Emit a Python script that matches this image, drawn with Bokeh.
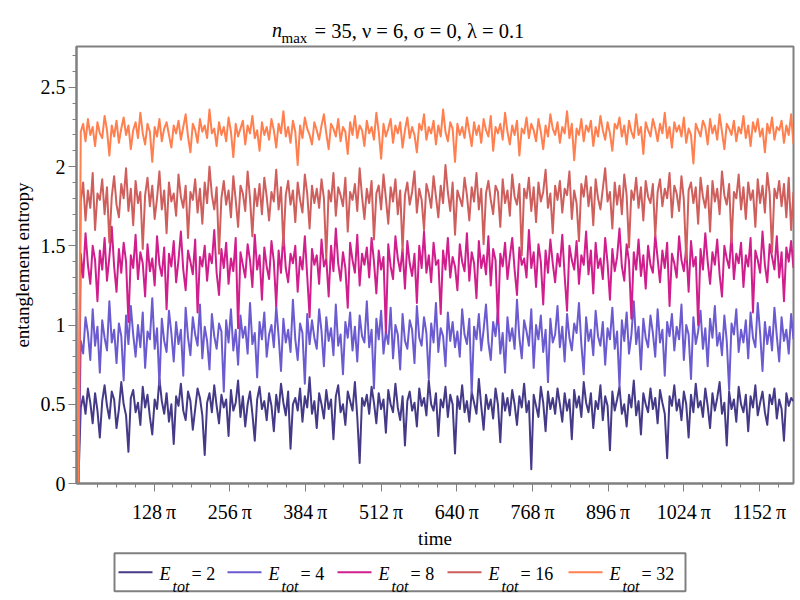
from bokeh.plotting import figure
from bokeh.models import Range1d, FixedTicker, CustomJSTickFormatter
from bokeh.layouts import column
from bokeh.embed import file_html
from bokeh.resources import INLINE
from bokeh.core.properties import value
import math

# ---------------- data ----------------
time_end = 3800.0          # last time value (about 1210 pi)
e_tot = [2, 4, 8, 16, 32]

s_e2 = [0.0,
0.48,0.55,0.44,0.60,0.51,0.38,0.57,0.46,0.29,0.52,0.62,0.49,0.41,0.58,0.53,0.35,0.47,0.64,0.50,0.43,
0.20,0.54,0.59,0.45,0.51,0.37,0.61,0.48,0.56,0.42,0.31,0.53,0.47,0.66,0.52,0.44,0.57,0.39,0.50,0.25,
0.55,0.49,0.63,0.46,0.40,0.58,0.52,0.34,0.47,0.60,0.54,0.43,0.18,0.51,0.57,0.45,0.62,0.49,0.38,0.56,
0.48,0.53,0.30,0.59,0.46,0.51,0.65,0.42,0.55,0.36,0.50,0.58,0.44,0.27,0.53,0.61,0.47,0.52,0.40,0.57,
0.49,0.33,0.56,0.45,0.63,0.51,0.43,0.58,0.22,0.50,0.54,0.46,0.60,0.39,0.55,0.48,0.67,0.44,0.52,0.35,
0.57,0.50,0.41,0.59,0.47,0.53,0.28,0.55,0.62,0.45,0.50,0.37,0.58,0.52,0.46,0.64,0.42,0.13,0.54,0.49,
0.56,0.44,0.61,0.51,0.38,0.57,0.47,0.53,0.32,0.59,0.50,0.45,0.63,0.48,0.40,0.55,0.24,0.52,0.58,0.46,
0.51,0.36,0.60,0.49,0.54,0.43,0.65,0.50,0.46,0.57,0.30,0.53,0.48,0.61,0.42,0.56,0.50,0.19,0.55,0.47,
0.62,0.45,0.52,0.39,0.58,0.51,0.44,0.66,0.49,0.34,0.56,0.47,0.53,0.41,0.60,0.50,0.26,0.57,0.46,0.54,
0.43,0.59,0.50,0.37,0.55,0.48,0.63,0.45,0.52,0.09,0.56,0.49,0.42,0.61,0.51,0.33,0.58,0.47,0.54,0.44,
0.60,0.50,0.39,0.57,0.46,0.53,0.28,0.59,0.48,0.55,0.42,0.64,0.51,0.45,0.57,0.35,0.52,0.47,0.62,0.40,
0.55,0.49,0.21,0.58,0.46,0.53,0.61,0.44,0.50,0.36,0.56,0.48,0.65,0.43,0.52,0.31,0.57,0.50,0.45,0.60,
0.47,0.54,0.38,0.59,0.51,0.44,0.16,0.55,0.49,0.62,0.46,0.53,0.40,0.58,0.50,0.29,0.56,0.45,0.63,0.48,
0.52,0.42,0.60,0.49,0.35,0.57,0.46,0.54,0.64,0.44,0.51,0.24,0.58,0.47,0.53,0.39,0.61,0.50,0.45,0.56,
0.33,0.55,0.48,0.62,0.43,0.51,0.58,0.45,0.37,0.56,0.50,0.60,0.41,0.53,0.47,0.27,0.57,0.49,0.54,0.52]

s_e4 = [0.0,
0.90,0.82,1.05,0.95,0.78,1.10,0.87,0.99,0.70,1.03,0.92,0.84,1.15,0.89,0.97,0.76,1.01,0.93,0.65,1.06,
0.88,1.12,0.94,0.80,1.00,0.86,1.08,0.73,0.96,0.91,1.17,0.85,0.98,0.62,1.04,0.90,0.83,1.09,0.95,0.77,
1.02,0.88,0.97,0.68,1.11,0.92,0.81,1.05,0.94,0.87,1.13,0.79,0.99,0.90,0.72,1.07,0.93,0.85,1.01,0.96,
0.58,1.03,0.89,1.10,0.84,0.97,0.75,1.06,0.92,0.99,0.82,1.14,0.88,0.95,0.67,1.02,0.91,1.08,0.80,0.94,
1.00,0.86,1.12,0.93,0.71,1.04,0.89,0.97,0.83,1.16,0.91,0.78,1.01,0.95,0.63,1.07,0.88,1.03,0.92,0.85,
1.10,0.96,0.74,1.05,0.90,0.98,0.81,1.13,0.87,0.94,0.69,1.02,0.92,1.08,0.84,0.99,0.77,1.06,0.93,0.89,
1.15,0.86,0.97,0.60,1.04,0.91,1.09,0.82,0.96,0.88,1.11,0.79,1.00,0.94,0.72,1.07,0.90,0.85,1.03,0.97,
0.76,1.12,0.92,0.87,1.05,0.95,0.66,1.01,0.89,1.14,0.83,0.98,0.93,0.74,1.08,0.90,1.02,0.86,0.96,0.80,
1.10,0.94,0.88,1.04,0.57,0.99,0.91,1.07,0.84,0.97,1.13,0.89,0.78,1.02,0.93,1.09,0.82,0.95,0.70,1.05,
0.90,0.98,0.85,1.16,0.92,0.79,1.03,0.96,0.87,1.10,0.73,1.00,0.91,1.06,0.83,0.97,0.64,1.04,0.89,0.94,
1.12,0.86,0.99,0.77,1.07,0.92,0.84,1.01,0.95,1.14,0.88,0.69,1.05,0.90,0.97,0.81,1.09,0.93,0.87,1.02,
0.75,0.98,0.91,1.11,0.85,0.96,0.61,1.03,0.90,1.08,0.82,0.94,1.15,0.88,0.99,0.72,1.04,0.92,0.86,1.06,
0.95,0.80,1.10,0.89,0.97,0.68,1.02,0.93,1.07,0.84,0.99,0.91,1.13,0.78,1.00,0.94,0.66,1.05,0.88,0.96,
1.09,0.85,0.98,0.74,1.04,0.92,1.12,0.87,0.95,0.81,1.06,0.90,0.59,1.01,0.94,1.10,0.83,0.97,0.89,1.03,
0.79,1.08,0.92,0.86,1.14,0.95,0.71,1.02,0.88,0.99,0.84,1.11,0.93,0.77,1.05,0.90,0.97,0.82,1.07,0.91]

s_e8 = [0.0,
1.45,1.30,1.58,1.38,1.26,1.50,1.41,1.15,1.47,1.35,1.55,1.28,1.43,1.62,1.37,1.21,1.48,1.33,1.52,1.40,
1.02,1.44,1.36,1.57,1.29,1.46,1.39,1.18,1.51,1.34,1.42,1.25,1.56,1.38,1.31,1.49,1.10,1.45,1.37,1.53,
1.27,1.41,1.59,1.35,1.22,1.47,1.40,1.32,1.54,1.08,1.43,1.37,1.50,1.28,1.45,1.39,1.60,1.33,1.19,1.48,
1.36,1.52,1.26,1.42,1.34,1.55,0.98,1.46,1.38,1.30,1.51,1.41,1.24,1.57,1.35,1.44,1.16,1.49,1.37,1.29,
1.53,1.40,1.12,1.47,1.33,1.58,1.36,1.27,1.45,1.39,1.50,1.21,1.43,1.35,1.56,1.31,1.05,1.48,1.38,1.44,
1.26,1.54,1.37,1.42,1.18,1.50,1.34,1.61,1.39,1.28,1.46,1.36,1.11,1.52,1.41,1.33,1.57,1.25,1.45,1.38,
1.49,1.30,1.55,1.40,1.20,1.47,1.35,1.43,0.95,1.51,1.37,1.29,1.56,1.42,1.34,1.48,1.23,1.53,1.39,1.31,
1.45,1.14,1.50,1.36,1.59,1.33,1.44,1.27,1.52,1.38,1.41,1.07,1.47,1.35,1.55,1.30,1.43,1.37,1.22,1.51,
1.40,1.34,1.58,1.28,1.46,1.39,1.17,1.53,1.36,1.44,1.32,1.56,1.25,1.48,1.41,1.01,1.45,1.37,1.52,1.29,
1.43,1.55,1.35,1.19,1.49,1.38,1.42,1.30,1.60,1.36,1.46,1.24,1.51,1.40,1.13,1.47,1.33,1.54,1.39,1.27,
1.45,1.37,1.57,1.31,1.09,1.50,1.41,1.35,1.53,1.26,1.44,1.38,1.59,1.32,1.47,1.20,1.52,1.36,1.42,1.29,
1.55,1.39,1.16,1.48,1.34,1.43,1.61,1.37,1.28,1.51,1.40,1.04,1.46,1.35,1.54,1.31,1.44,1.23,1.50,1.38,
1.33,1.57,1.42,1.27,1.47,1.36,1.52,1.12,1.45,1.39,1.30,1.56,1.41,1.34,1.49,1.21,1.53,1.37,1.43,1.00,
1.48,1.35,1.58,1.40,1.26,1.46,1.38,1.54,1.32,1.18,1.50,1.42,1.36,1.57,1.29,1.45,1.39,1.52,1.24,1.44,
1.37,1.55,1.08,1.47,1.41,1.33,1.59,1.38,1.27,1.51,1.43,1.35,1.56,1.30,1.46,1.15,1.49,1.40,1.53,1.36]

s_e16 = [0.0,
1.78,1.90,1.66,1.85,1.74,1.96,1.60,1.83,1.79,1.92,1.70,1.87,1.52,1.81,1.94,1.76,1.68,1.89,1.80,1.99,
1.72,1.86,1.63,1.91,1.77,1.84,1.48,1.82,1.93,1.75,1.88,1.67,1.80,1.97,1.73,1.85,1.58,1.90,1.78,1.83,
1.69,1.95,1.81,1.74,1.88,1.55,1.84,1.79,1.92,1.71,1.86,1.64,1.90,1.77,2.00,1.82,1.73,1.87,1.45,1.80,
1.91,1.76,1.85,1.68,1.94,1.79,1.62,1.88,1.83,1.72,1.97,1.80,1.56,1.86,1.75,1.89,1.70,1.93,1.81,1.66,
1.84,1.78,1.98,1.73,1.87,1.50,1.82,1.91,1.76,1.85,1.65,1.90,1.79,1.71,1.95,1.83,1.61,1.88,1.77,1.86,
1.74,1.92,1.80,1.42,1.85,1.78,1.96,1.69,1.87,1.82,1.75,1.93,1.59,1.84,1.79,1.89,1.72,1.99,1.81,1.67,
1.86,1.77,1.91,1.54,1.83,1.88,1.73,1.95,1.80,1.64,1.87,1.78,1.92,1.70,1.85,1.47,1.82,1.90,1.76,1.84,
1.97,1.71,1.86,1.79,1.60,1.89,1.83,1.74,1.94,1.81,1.68,1.88,1.77,2.01,1.84,1.72,1.90,1.57,1.85,1.80,
1.75,1.93,1.82,1.66,1.87,1.78,1.96,1.73,1.86,1.51,1.83,1.91,1.79,1.70,1.88,1.84,1.62,1.92,1.77,1.85,
1.69,1.95,1.81,1.76,1.89,1.44,1.86,1.80,1.93,1.72,1.87,1.65,1.90,1.78,1.84,1.98,1.74,1.83,1.58,1.88,
1.79,1.91,1.71,1.86,1.82,1.97,1.67,1.85,1.77,1.53,1.89,1.81,1.94,1.75,1.87,1.63,1.92,1.80,1.73,1.86,
1.99,1.78,1.84,1.61,1.90,1.76,1.88,1.70,1.95,1.82,1.49,1.85,1.79,1.93,1.74,1.87,1.66,1.91,1.81,1.77,
1.89,1.56,1.84,1.92,1.75,1.86,1.80,1.96,1.68,1.88,1.83,1.72,1.94,1.79,1.41,1.85,1.90,1.77,1.87,1.64,
1.93,1.81,1.74,1.88,1.59,1.91,1.78,1.86,1.70,1.97,1.82,1.76,1.89,1.52,1.84,1.80,1.95,1.73,1.87,1.67,
1.90,1.79,1.85,1.62,1.92,1.77,1.88,1.71,1.96,1.83,1.46,1.86,1.80,1.91,1.75,1.89,1.68,1.93,1.60,1.84]

s_e32 = [0.0,
2.22,2.27,2.16,2.30,2.20,2.25,2.13,2.28,2.21,2.18,2.32,2.23,2.07,2.26,2.19,2.29,2.15,2.24,2.31,2.20,
2.26,2.11,2.23,2.28,2.18,2.34,2.21,2.14,2.27,2.22,2.03,2.25,2.19,2.30,2.16,2.24,2.28,2.20,2.12,2.26,
2.21,2.29,2.17,2.25,2.33,2.19,2.09,2.27,2.23,2.15,2.30,2.22,2.26,2.18,2.36,2.21,2.24,2.13,2.28,2.20,
2.25,2.16,2.31,2.22,2.06,2.27,2.19,2.24,2.29,2.14,2.26,2.21,2.32,2.18,2.23,2.10,2.28,2.20,2.25,2.17,
2.30,2.23,2.12,2.27,2.21,2.35,2.19,2.25,2.15,2.29,2.22,2.01,2.26,2.18,2.31,2.24,2.20,2.14,2.28,2.23,
2.17,2.26,2.33,2.21,2.11,2.27,2.24,2.19,2.30,2.16,2.25,2.22,2.08,2.28,2.20,2.32,2.18,2.26,2.23,2.13,
2.29,2.21,2.25,2.17,2.34,2.22,2.05,2.27,2.19,2.24,2.30,2.15,2.26,2.21,2.28,2.12,2.23,2.31,2.18,2.25,
2.20,2.09,2.27,2.23,2.33,2.17,2.25,2.21,2.29,2.14,2.26,2.19,2.36,2.22,2.16,2.28,2.24,2.03,2.27,2.20,
2.25,2.18,2.31,2.22,2.13,2.28,2.20,2.26,2.15,2.30,2.23,2.19,2.32,2.10,2.25,2.21,2.27,2.17,2.34,2.22,
2.14,2.26,2.20,2.29,2.07,2.24,2.21,2.31,2.18,2.27,2.23,2.16,2.30,2.22,2.11,2.26,2.19,2.33,2.24,2.20,
2.28,2.15,2.25,2.21,2.35,2.18,2.27,2.04,2.24,2.20,2.30,2.16,2.26,2.22,2.29,2.13,2.25,2.19,2.32,2.23,
2.17,2.28,2.21,2.10,2.27,2.24,2.31,2.19,2.26,2.14,2.29,2.22,2.18,2.33,2.20,2.25,2.08,2.28,2.23,2.19,
2.30,2.24,2.16,2.27,2.21,2.34,2.18,2.25,2.12,2.28,2.22,2.26,2.19,2.31,2.15,2.24,2.20,2.02,2.27,2.23,
2.19,2.29,2.25,2.14,2.30,2.21,2.26,2.17,2.33,2.22,2.11,2.27,2.24,2.20,2.29,2.16,2.25,2.21,2.32,2.18,
2.26,2.13,2.28,2.22,2.30,2.19,2.24,2.09,2.27,2.21,2.31,2.17,2.25,2.23,2.29,2.15,2.26,2.20,2.33,2.14]

x_tick_multiples = [128, 256, 384, 512, 640, 768, 896, 1024, 1152]   # times pi
y_ticks = [0, 0.5, 1, 1.5, 2, 2.5]

series = [s_e2, s_e4, s_e8, s_e16, s_e32]
colors = ["#443A88", "#6B5BD0", "#D01E8C", "#CF5F5C", "#FF7F4F"]

# ---------------- layout constants (page pixels) ----------------
FONT = "Liberation Serif"
W = 796
FL, FR = 76, 793            # frame left / right
TITLE_H = 45                # title strip 0..45
FT, FB = 46, 484            # frame top / bottom
PX_PER_UNIT = 158.8         # vertical scale of the reference
LEG_TOP = 551               # legend strip starts here
LEG_H = 45
MAIN_H = LEG_TOP - TITLE_H

# ---------------- title strip ----------------
tt = figure(width=W, height=TITLE_H, x_range=Range1d(FL, FR), y_range=Range1d(TITLE_H, 0),
            output_backend="svg", toolbar_location=None, min_border=0,
            min_border_left=FL, min_border_right=W - FR,
            x_axis_location=None, y_axis_location=None)
tt.outline_line_color = None
tt.xgrid.visible = False
tt.ygrid.visible = False
tt.text(x=[271.5], y=[29], text=["n"], text_font=value(FONT), text_font_style="italic",
        text_font_size="20px", text_baseline="alphabetic", text_color="black")
tt.text(x=[281], y=[37.5], text=["max"], text_font=value(FONT),
        text_font_size="15px", text_baseline="alphabetic", text_color="black")
tt.text(x=[314], y=[30], text=["= 35, \u03bd = 6, \u03c3 = 0, \u03bb = 0.1"], text_font=value(FONT),
        text_font_size="20.5px", text_baseline="alphabetic", text_color="black")

# ---------------- main plot ----------------
p = figure(width=W, height=MAIN_H, x_range=Range1d(-10, time_end),
           y_range=Range1d(0, (FB - FT) / PX_PER_UNIT),
           output_backend="svg", toolbar_location=None,
           min_border_left=FL, min_border_right=W - FR, min_border_top=FT - TITLE_H,
           min_border_bottom=MAIN_H - (FB - TITLE_H))
p.title.visible = False
p.xgrid.visible = False
p.ygrid.visible = False
p.outline_line_color = "#808080"
p.outline_line_width = 2

for vals, c in zip(series, colors):
    t = [time_end * i / (len(vals) - 1) for i in range(len(vals))]
    p.line(t, vals, line_color=c, line_width=2, line_join="round")

major_x = [m * math.pi for m in x_tick_multiples]
minor_x = [32 * j * math.pi for j in range(1, 38)]
p.xaxis.ticker = FixedTicker(ticks=major_x, minor_ticks=minor_x)
p.xaxis.formatter = CustomJSTickFormatter(code="return Math.round(tick / Math.PI) + '\u2009\u03c0';")
p.yaxis.ticker = FixedTicker(ticks=y_ticks, minor_ticks=[round(0.1 * i, 1) for i in range(28)])
p.yaxis.formatter = CustomJSTickFormatter(code="return String(tick);")

for ax in (p.xaxis[0], p.yaxis[0]):
    ax.axis_line_color = "#808080"
    ax.axis_line_width = 2
    ax.major_tick_line_color = "#808080"
    ax.minor_tick_line_color = "#808080"
    ax.major_tick_in = 0
    ax.major_tick_out = 8
    ax.minor_tick_in = 0
    ax.minor_tick_out = 4
    ax.major_label_text_font = FONT
    ax.major_label_text_font_size = "20px"
    ax.major_label_text_color = "black"
    ax.axis_label_text_font = FONT
    ax.axis_label_text_font_size = "19px"
    ax.axis_label_text_font_style = "normal"
    ax.axis_label_text_color = "black"

p.xaxis.axis_label = "time"
p.xaxis.major_label_standoff = 9
p.xaxis.axis_label_standoff = 2
p.yaxis.axis_label = "entanglement entropy"
p.yaxis.major_label_standoff = 3
p.yaxis.axis_label_standoff = 5

# ---------------- legend strip ----------------
lg = figure(width=W, height=LEG_H, x_range=Range1d(FL, FR), y_range=Range1d(LEG_TOP + LEG_H, LEG_TOP),
            output_backend="svg", toolbar_location=None, min_border=0,
            min_border_left=FL, min_border_right=W - FR,
            x_axis_location=None, y_axis_location=None)
lg.outline_line_color = None
lg.xgrid.visible = False
lg.ygrid.visible = False
lg.quad(left=[114], right=[685], top=[552.7], bottom=[590.7], fill_color=None,
        line_color="#808080", line_width=2)

starts = [118, 227, 337, 447, 568]
lg.segment(x0=starts, y0=[571.7] * 5, x1=[s + 34 for s in starts], y1=[571.7] * 5,
           line_color=colors, line_width=2)
lg.text(x=[s + 41 for s in starts], y=[573.3] * 5, text=["E"] * 5, text_font=value(FONT),
        text_font_style="italic", text_font_size="18px", text_baseline="alphabetic", text_color="black")
lg.text(x=[s + 54 for s in starts], y=[586] * 5, text=["tot"] * 5, text_font=value(FONT),
        text_font_style="italic", text_font_size="16px", text_baseline="alphabetic", text_color="black")
lg.text(x=[s + 73 for s in starts], y=[573.3] * 5, text=["= %d" % e for e in e_tot], text_font=value(FONT),
        text_font_size="18px", text_baseline="alphabetic", text_color="black")

layout = column(tt, p, lg, spacing=0)
open("out.html", "w").write(file_html(layout, INLINE))
